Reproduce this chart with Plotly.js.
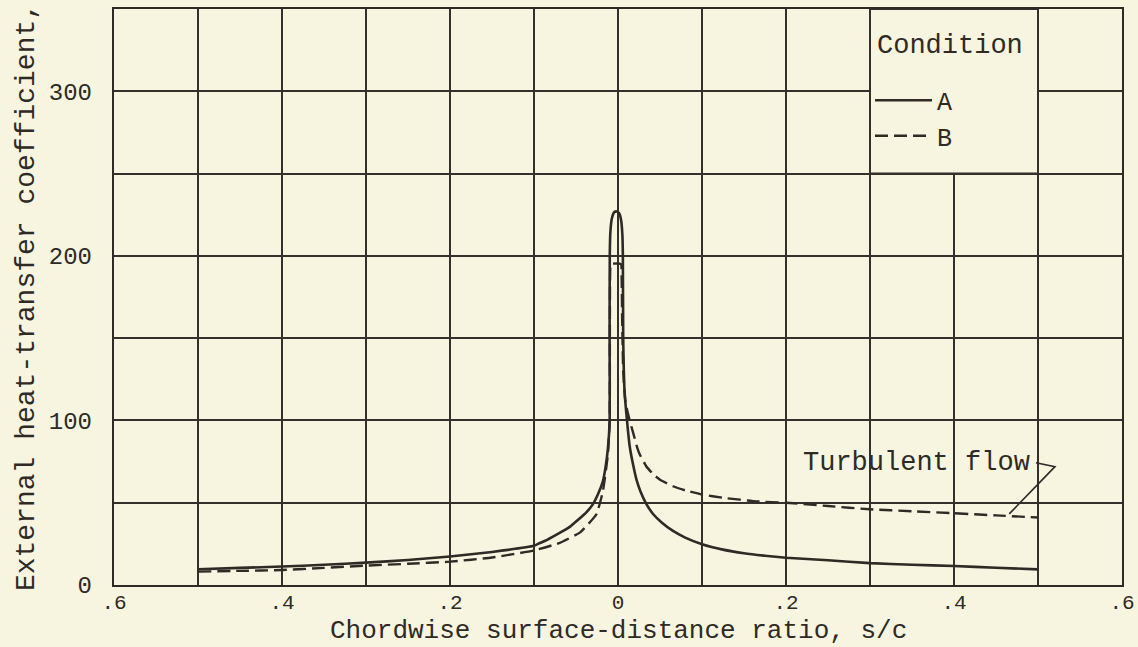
<!DOCTYPE html>
<html>
<head>
<meta charset="utf-8">
<script src="https://cdn.plot.ly/plotly-3.0.1.min.js"></script>
<style>
html,body{margin:0;padding:0;background:#f7f4df;}
#chart{width:1138px;height:647px;}
</style>
</head>
<body>
<div id="chart"></div>
<script>
// Condition A (solid)
const xA = [-0.5,-0.45,-0.4,-0.35,-0.3,-0.25,-0.2,-0.15,-0.1,-0.093,-0.085,-0.07,-0.057,-0.046,-0.038,-0.03,-0.024,-0.018,-0.015,-0.012,
  -0.0099,-0.0100,-0.0098,-0.0090,-0.0072,-0.0045,-0.0015,0.0012,0.0036,0.0052,
  0.0058,0.0062,0.0078,0.0107,0.014,0.018,0.022,0.027,0.034,0.042,0.052,0.065,0.08,0.1,
  0.125,0.15,0.175,0.2,0.25,0.3,0.35,0.4,0.45,0.5];
const yA = [9.6,10.4,11.2,12.3,13.6,15.2,17.3,20.1,23.8,25.5,27.3,31.5,35.5,40.3,44,49,55,63,71,83,
  100,150,200,215,223,226.5,227,226,222,213,
  200,150,118,100,84,73,64,56.5,49,43,38,33,28.8,24.8,
  21.5,19.3,17.8,16.6,15,13.3,12.3,11.5,10.5,9.5];
// Condition B (dashed)
const xB = [-0.5,-0.45,-0.4,-0.35,-0.3,-0.25,-0.2,-0.15,-0.1,-0.07,-0.045,-0.0257,-0.018,-0.012,
  -0.0099,-0.0097,-0.0094,-0.0085,0.0035,0.0043,0.0050,0.0062,0.0085,0.011,
  0.015,0.0183,0.0226,0.0258,0.0338,0.0424,0.05,0.0655,0.08,0.1,0.125,0.165,0.2,0.25,0.3,0.35,0.4,0.45,0.5];
const yB = [8.1,8.6,9.1,10.4,11.8,12.9,14.2,16.7,21,25.5,32,43,57,79.4,
  99.6,150,188,195,195,188,160,130,113,106,
  98,92,84,79.5,72,67,64,60,57.5,55,53,50.8,50,48,46,44.8,43.6,42.3,41];

const seriesNames = ['A','B'];
const legendTitle = 'Condition';
const xTitle = 'Chordwise surface-distance ratio, s/c';
const yTitle = 'External heat-transfer coefficient,';
const xTickVals = [-0.6,-0.5,-0.4,-0.3,-0.2,-0.1,0,0.1,0.2,0.3,0.4,0.5,0.6];
const xTickText = ['.6','','.4','','.2','','0','','.2','','.4','','.6'];
const yTickVals = [0,50,100,150,200,250,300,350];
const yTickText = ['0','','100','','200','','300',''];

const INK = '#2e2a26';
const GRID = '#35302c';
const BG = '#f7f4df';
const FONT = 'Liberation Mono, DejaVu Sans Mono, monospace';

const traces = [
  {x:xA, y:yA, name:seriesNames[0], type:'scatter', mode:'lines',
   line:{color:INK, width:2.6, shape:'spline', smoothing:0.4}},
  {x:xB, y:yB, name:seriesNames[1], type:'scatter', mode:'lines',
   line:{color:INK, width:2.4, dash:'13px,6px', shape:'spline', smoothing:0.4}}
];

const axisCommon = {
  showline:true, mirror:true, linecolor:INK, linewidth:2.2,
  showgrid:true, gridcolor:GRID, gridwidth:2,
  zeroline:false, ticks:'', tickfont:{family:FONT, size:24, color:INK}
};

const layout = {
  width:1138, height:647,
  paper_bgcolor:BG, plot_bgcolor:BG,
  margin:{l:114, r:16, t:9, b:62},
  showlegend:true,
  font:{family:FONT, color:INK},
  xaxis:Object.assign({}, axisCommon, {
    range:[-0.6,0.6], tickmode:'array', tickvals:xTickVals, ticktext:xTickText,
    ticklabelstandoff:-3, tickfont:{family:FONT, size:21, color:INK}
  }),
  yaxis:Object.assign({}, axisCommon, {
    range:[0,350], tickmode:'array', tickvals:yTickVals, ticktext:yTickText,
    ticklabelstandoff:15,
    title:{text:yTitle, font:{family:FONT, size:28, color:INK}, standoff:6}
  }),
  legend:{
    x:0.75, y:0.881, xanchor:'left', yanchor:'top',
    bgcolor:'rgba(0,0,0,0)', borderwidth:0, itemwidth:57,
    font:{family:FONT, size:25, color:INK},
    tracegroupgap:0
  },
  shapes:[
    {type:'rect', xref:'x', yref:'y', x0:0.3, x1:0.5, y0:250, y1:350,
     fillcolor:BG, line:{color:GRID, width:2}, layer:'above'},
    {type:'path', xref:'x', yref:'y', path:'M0.4976,74.3 L0.5202,71.9 L0.4658,43.2',
     line:{color:INK, width:1.6}, layer:'above'}
  ],
  annotations:[
    {text:legendTitle, x:0.306, y:327.5, xref:'x', yref:'y', showarrow:false,
     xanchor:'left', yanchor:'middle', font:{family:FONT, size:27, color:INK}},
    {text:'Turbulent flow', x:0.355, y:74.2, xref:'x', yref:'y', showarrow:false,
     xanchor:'center', yanchor:'middle', font:{family:FONT, size:27, color:INK}},
    {text:xTitle, x:0.5, y:-0.1068, xref:'paper', yref:'paper', showarrow:false, borderpad:0,
     xanchor:'center', yanchor:'bottom', font:{family:FONT, size:26, color:INK}}
  ]
};

Plotly.newPlot('chart', traces, layout, {staticPlot:true, displayModeBar:false});
</script>
</body>
</html>
